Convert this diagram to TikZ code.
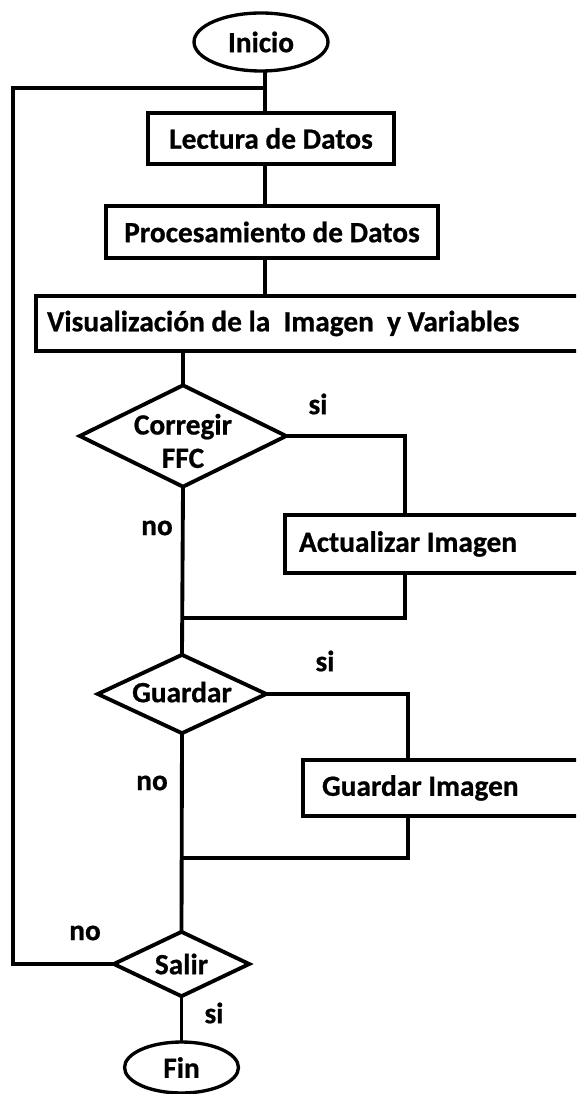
\documentclass[tikz,border=0pt]{standalone}
\usepackage{fontspec}
\setmainfont{Carlito}[BoldFeatures={FakeBold=0.7}]
\usetikzlibrary{shapes.geometric}
\newcommand{\plainsp}{\spaceskip=0pt\xspaceskip=0pt\relax}
\tikzset{
  lw/.style={line width=2.2pt},
  txt/.style={font=\fontsize{16.7}{19}\selectfont\bfseries},
  term/.style={ellipse, draw, lw, line width=1.9pt, inner sep=0pt, txt},
  procbox/.style={rectangle, draw, lw, inner sep=0pt, txt},
  openbox/.style={rectangle, draw, lw, inner ysep=0pt, align=left, txt},
  decide/.style={diamond, draw, lw, inner sep=0pt},
  lbl/.style={txt, inner sep=0pt},
  conn/.style={lw, line cap=rect}
}
\begin{document}
\begin{tikzpicture}[x=0.02cm, y=-0.02cm]
\useasboundingbox (0,0) rectangle (576,1094);
\clip (0,0) rectangle (576,1094);
\fill[white] (0,0) rectangle (576,1094);

% nodes
\node[term, minimum width=2.68cm, minimum height=1.16cm] (ini) at (261,42) {Inicio};
\node[procbox, minimum width=4.92cm, minimum height=1.02cm] (lec) at (271,138.5) {Lectura de Datos};
\node[procbox, minimum width=6.64cm, minimum height=1.04cm] (pro) at (272,232) {Procesamiento de Datos};
\node[openbox, minimum height=1.1cm, inner xsep=0.22cm, text width=10.84cm] (vis) at (318,323.5) {\plainsp\mbox{Visualización de la\ \ Imagen\ \ y Variables}};
\node[decide, minimum width=4.16cm, minimum height=2.06cm,
      label={[txt, align=center, yshift=-0.1cm]center:Corregir\\FFC}] (cor) at (183,436) {};
\node[openbox, minimum height=1.16cm, inner xsep=0.28cm, text width=5.74cm] (act) at (442.5,544) {\plainsp\mbox{Actualizar Imagen}};
\node[decide, minimum width=3.4cm, minimum height=1.6cm,
      label={[txt, yshift=0.04cm]center:Guardar}] (gua) at (182,694) {};
\node[openbox, minimum height=1.12cm, inner xsep=0.38cm, text width=5.18cm] (gim) at (451.5,788) {\plainsp\mbox{Guardar Imagen}};
\node[decide, minimum width=2.74cm, minimum height=1.32cm,
      label={[txt]center:Salir}] (sal) at (181.5,964) {};
\node[term, minimum width=2.28cm, minimum height=1.02cm] (fin) at (181.5,1067.5) {Fin};

% helper coordinates
\coordinate (top) at (265,88);
\coordinate (left) at (13,88);
\coordinate (a1) at (405,0);
\coordinate (j1) at (183,618);
\coordinate (a2) at (408,0);
\coordinate (j2) at (182,858);

% connectors
\draw[conn] (ini.south -| top) -- (top |- lec.north);
\draw[conn] (lec.south -| top) -- (top |- pro.north);
\draw[conn] (pro.south -| top) -- (top |- vis.north);
\draw[conn] (cor.north) -- (cor.north |- vis.south);
\draw[conn] (cor.east) -| (a1 |- act.north);
\draw[conn] (a1 |- act.south) |- (j1);
\draw[conn] (cor.south) -- (gua.north);
\draw[conn] (gua.east) -| (a2 |- gim.north);
\draw[conn] (a2 |- gim.south) |- (j2);
\draw[conn] (gua.south) -- (sal.north);
\draw[conn] (sal.west) -| (left) -- (top);
\draw[conn] (sal.south) -- (fin.north);

% labels
\node[lbl] (si1) at (318,404) {si};
\node[lbl] (no1) at (157,528) {no};
\node[lbl] (si2) at (325,661) {si};
\node[lbl] (no2) at (152,783) {no};
\node[lbl] (no3) at (85,933) {no};
\node[lbl] (si3) at (214,1013) {si};
\end{tikzpicture}
\end{document}
